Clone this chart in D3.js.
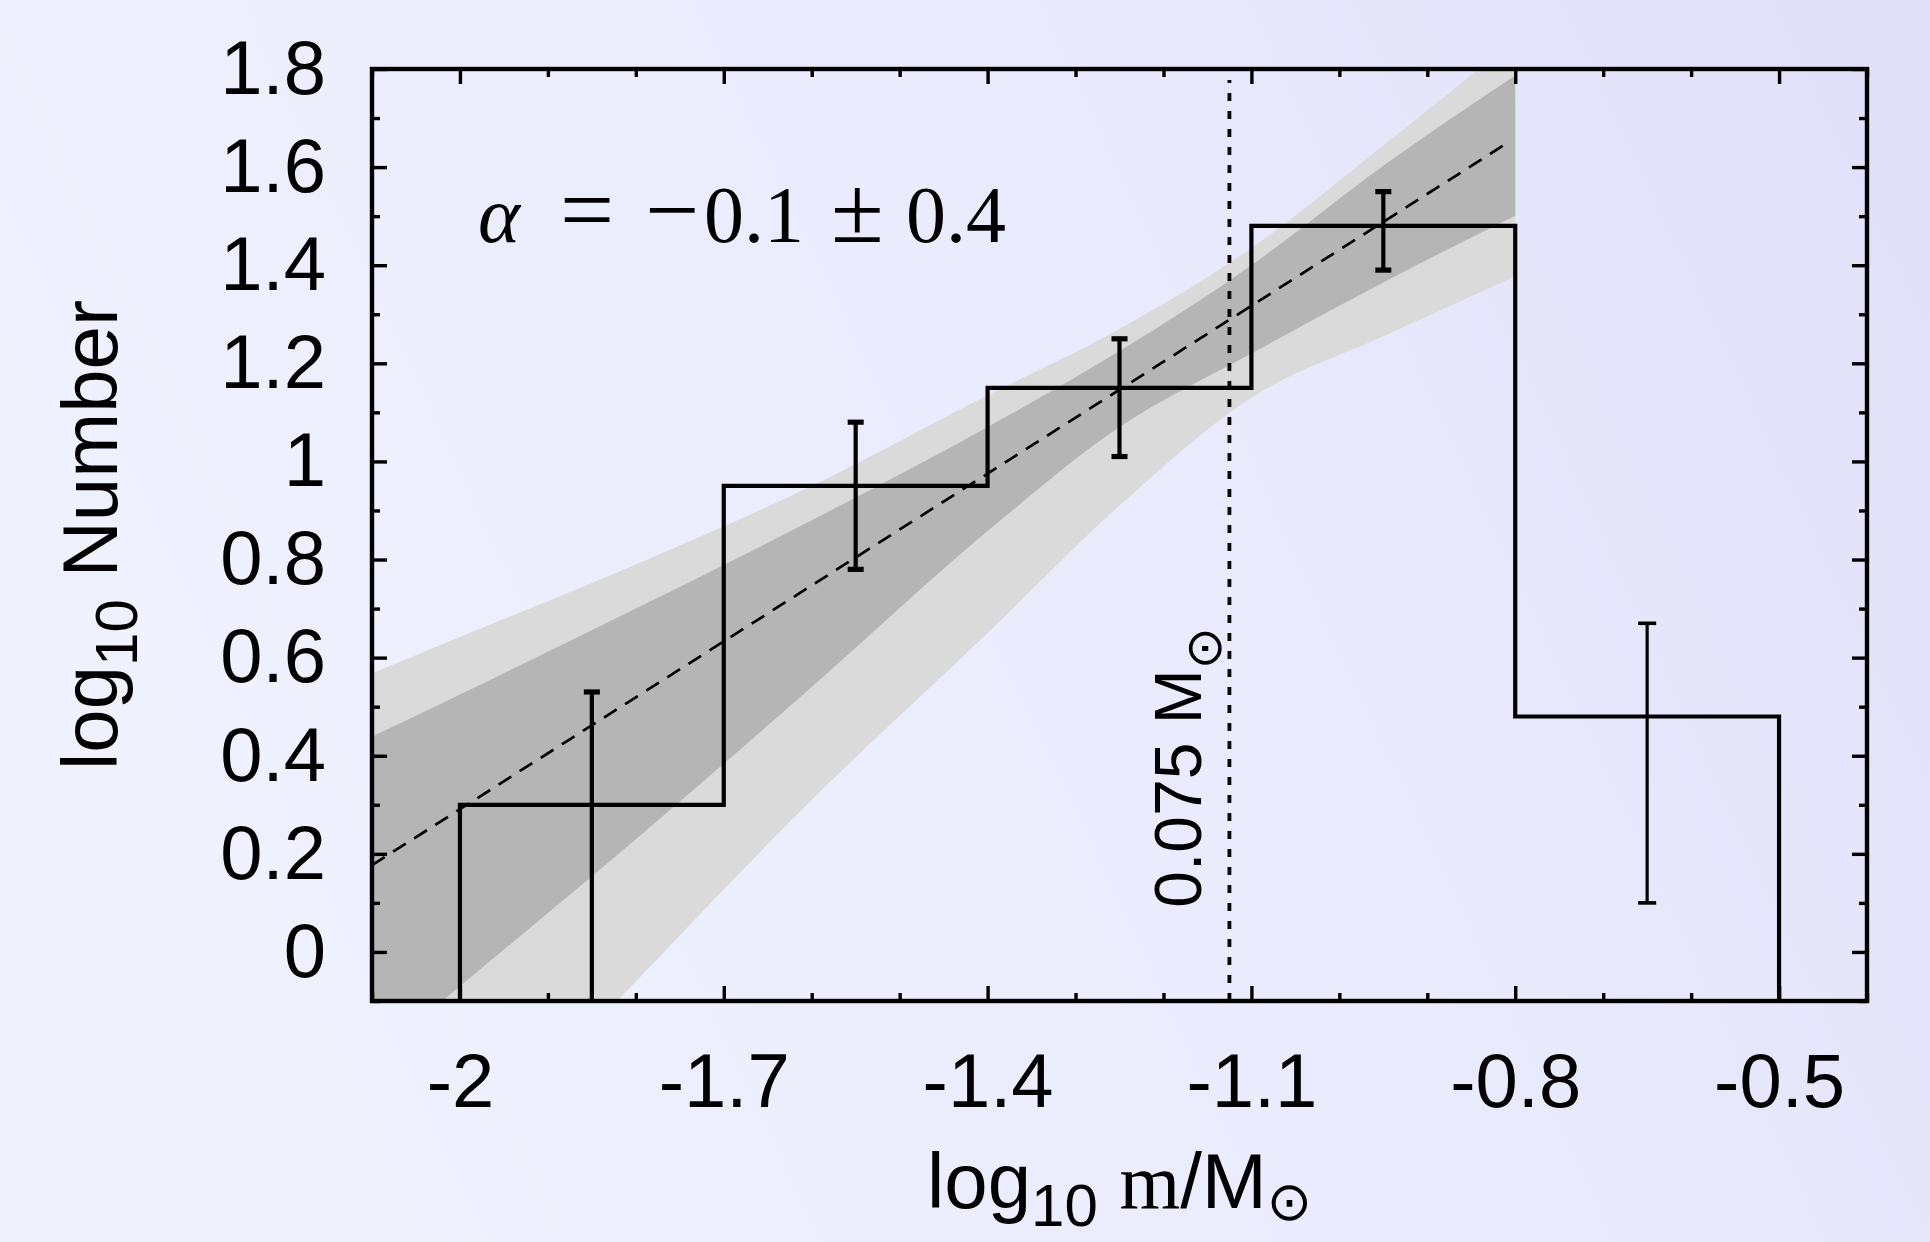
<!DOCTYPE html>
<html>
<head>
<meta charset="utf-8">
<script src="https://cdn.jsdelivr.net/npm/d3@7"></script>
<style>
    html, body { margin: 0; padding: 0; background: #eceefc; }
    svg { display: block; }
    .tick text { font-family: "Liberation Sans", Arial, sans-serif; fill: #000; }
</style>
</head>
<body>
<div id="chart"></div>
<script>
// DATA //
// histogram of log10 mass, bins of 0.3 dex
const binEdges = [-2.0, -1.7, -1.4, -1.1, -0.8, -0.5]
const binHeights = [0.30, 0.95, 1.15, 1.48, 0.48]
const binCenters = [-1.85, -1.55, -1.25, -0.95, -0.65]
const errLow = [-0.23, 0.78, 1.01, 1.39, 0.10]
const errHigh = [0.53, 1.08, 1.25, 1.55, 0.67]

// power-law fit (dashed) and its confidence bands
const fitX = [-2.1, -0.81]
const fitY = [0.177, 1.648]
const bandX = [-2.1, -2.0, -1.8, -1.6, -1.4, -1.25, -1.1, -0.95, -0.8]
const outerUpper = [0.568, 0.642, 0.79, 0.95, 1.135, 1.27, 1.435, 1.644, 1.86]
const innerUpper = [0.439, 0.525, 0.70, 0.88, 1.07, 1.225, 1.40, 1.603, 1.787]
const innerLower = [-0.22, -0.07, 0.23, 0.54, 0.858, 1.07, 1.22, 1.365, 1.501]
const outerLower = [-0.62, -0.44, -0.06, 0.31, 0.65, 0.91, 1.13, 1.255, 1.377]

// hydrogen burning limit, log10(0.075)
const cutoffMass = -1.125
const cutoffLabel = "0.075 M"

const xMajorTicks = [-2, -1.7, -1.4, -1.1, -0.8, -0.5]
const xMinorTicks = [-2.1, -1.9, -1.8, -1.6, -1.5, -1.3, -1.2, -1.0, -0.9, -0.7, -0.6, -0.4]
const yMajorTicks = [0, 0.2, 0.4, 0.6, 0.8, 1, 1.2, 1.4, 1.6, 1.8]
const yMinorTicks = [-0.1, 0.1, 0.3, 0.5, 0.7, 0.9, 1.1, 1.3, 1.5, 1.7]

// GLOBAL VARIABLES //
let dimensions = {
    width: 1930,
    height: 1242,
    margin: {
        top: 69,
        right: 63,
        bottom: 241,
        left: 372,
    },
}
dimensions.boundedWidth = dimensions.width
    - dimensions.margin.left
    - dimensions.margin.right
dimensions.boundedHeight = dimensions.height
    - dimensions.margin.top
    - dimensions.margin.bottom

const xScale = d3.scaleLinear()
    .domain([-2.1, -0.4])
    .range([0, dimensions.boundedWidth])

const yScale = d3.scaleLinear()
    .domain([-0.1, 1.8])
    .range([dimensions.boundedHeight, 0])

const fmt = d => String(d)

function drawChart() {
    const svg = d3.select("#chart")
        .append("svg")
        .attr("width", dimensions.width)
        .attr("height", dimensions.height)

    // background wash
    const defs = svg.append("defs")
    const grad = defs.append("linearGradient")
        .attr("id", "bg")
        .attr("x1", "0%").attr("y1", "30%")
        .attr("x2", "100%").attr("y2", "0%")
    grad.append("stop").attr("offset", "0%").attr("stop-color", "#eff1fd")
    grad.append("stop").attr("offset", "55%").attr("stop-color", "#e9eafc")
    grad.append("stop").attr("offset", "100%").attr("stop-color", "#e0e1f9")

    defs.append("clipPath")
        .attr("id", "plot-clip")
        .append("rect")
        .attr("width", dimensions.boundedWidth)
        .attr("height", dimensions.boundedHeight)

    svg.append("rect")
        .attr("width", dimensions.width)
        .attr("height", dimensions.height)
        .attr("fill", "url(#bg)")

    const bounds = svg.append("g")
        .attr("transform", `translate(${dimensions.margin.left}, ${dimensions.margin.top})`)

    const plot = bounds.append("g")
        .attr("clip-path", "url(#plot-clip)")

    // confidence bands
    const bandArea = d3.area()
        .x(d => xScale(d.x))
        .y0(d => yScale(d.lo))
        .y1(d => yScale(d.hi))
        .curve(d3.curveMonotoneX)

    const outerBand = bandX.map((x, i) => ({x: x, lo: outerLower[i], hi: outerUpper[i]}))
    const innerBand = bandX.map((x, i) => ({x: x, lo: innerLower[i], hi: innerUpper[i]}))

    plot.append("path")
        .datum(outerBand)
        .attr("d", bandArea)
        .attr("fill", "#dadada")

    plot.append("path")
        .datum(innerBand)
        .attr("d", bandArea)
        .attr("fill", "#b5b5b5")

    // fit line
    plot.append("line")
        .attr("x1", xScale(fitX[0]))
        .attr("y1", yScale(fitY[0]))
        .attr("x2", xScale(fitX[1]))
        .attr("y2", yScale(fitY[1]))
        .attr("stroke", "#000")
        .attr("stroke-width", 2.7)
        .attr("stroke-dasharray", "15,10")

    // histogram outline
    const steps = [[binEdges[0], yScale.domain()[0]]]
    binHeights.forEach((h, i) => {
        steps.push([binEdges[i], h])
        steps.push([binEdges[i + 1], h])
    })
    steps.push([binEdges[binEdges.length - 1], yScale.domain()[0]])

    plot.append("path")
        .datum(steps)
        .attr("d", d3.line().x(d => xScale(d[0])).y(d => yScale(d[1])))
        .attr("fill", "none")
        .attr("stroke", "#000")
        .attr("stroke-width", 4.2)
        .attr("stroke-linejoin", "miter")

    // error bars
    const errGroup = plot.append("g")
    binCenters.forEach((c, i) => {
        const last = i === binCenters.length - 1
        const sw = last ? 3.2 : 4.2
        const capW = last ? 9 : 8
        const cx = xScale(c)
        errGroup.append("line")
            .attr("x1", cx).attr("x2", cx)
            .attr("y1", yScale(errLow[i])).attr("y2", yScale(errHigh[i]))
            .attr("stroke", "#000").attr("stroke-width", sw)
        ;[errLow[i], errHigh[i]].forEach(v => {
            errGroup.append("line")
                .attr("x1", cx - capW).attr("x2", cx + capW)
                .attr("y1", yScale(v)).attr("y2", yScale(v))
                .attr("stroke", "#000").attr("stroke-width", last ? 3.6 : 5.2)
        })
    })

    // cutoff line
    plot.append("line")
        .attr("x1", xScale(cutoffMass)).attr("x2", xScale(cutoffMass))
        .attr("y1", yScale(yScale.domain()[0]))
        .attr("y2", yScale(yScale.domain()[1]) + 11)
        .attr("stroke", "#000")
        .attr("stroke-width", 3.8)
        .attr("stroke-dasharray", "8,10")

    const cut = bounds.append("text")
        .attr("transform", `translate(${xScale(cutoffMass) - 28}, ${yScale(0.09)}) rotate(-90)`)
        .attr("font-family", "Liberation Sans, Arial, sans-serif")
        .attr("font-size", 66)
        .attr("fill", "#000")
    cut.append("tspan").text(cutoffLabel)
    cut.append("tspan")
        .attr("font-family", "DejaVu Sans")
        .attr("font-size", 50)
        .attr("dy", 20)
        .attr("dx", 0)
        .text("\u2299")

    // axes: inner ticks on all four sides
    const axisStyle = g => {
        g.select(".domain").remove()
        g.selectAll(".tick line").attr("stroke", "#000").attr("stroke-width", 3.4)
        g.selectAll(".tick text").attr("font-size", 76)
    }

    bounds.append("g")
        .attr("transform", `translate(0, ${dimensions.boundedHeight})`)
        .call(d3.axisBottom(xScale).tickValues(xMajorTicks).tickSizeInner(-15).tickSizeOuter(0)
            .tickPadding(52).tickFormat(fmt))
        .call(axisStyle)
    bounds.append("g")
        .attr("transform", `translate(0, ${dimensions.boundedHeight})`)
        .call(d3.axisBottom(xScale).tickValues(xMinorTicks).tickSizeInner(-8).tickSizeOuter(0).tickFormat(""))
        .call(axisStyle)
    bounds.append("g")
        .call(d3.axisTop(xScale).tickValues(xMajorTicks).tickSizeInner(-15).tickSizeOuter(0).tickFormat(""))
        .call(axisStyle)
    bounds.append("g")
        .call(d3.axisTop(xScale).tickValues(xMinorTicks).tickSizeInner(-8).tickSizeOuter(0).tickFormat(""))
        .call(axisStyle)

    bounds.append("g")
        .call(d3.axisLeft(yScale).tickValues(yMajorTicks).tickSizeInner(-15).tickSizeOuter(0)
            .tickPadding(46).tickFormat(fmt))
        .call(axisStyle)
    bounds.append("g")
        .call(d3.axisLeft(yScale).tickValues(yMinorTicks).tickSizeInner(-8).tickSizeOuter(0).tickFormat(""))
        .call(axisStyle)
    bounds.append("g")
        .attr("transform", `translate(${dimensions.boundedWidth}, 0)`)
        .call(d3.axisRight(yScale).tickValues(yMajorTicks).tickSizeInner(-15).tickSizeOuter(0).tickFormat(""))
        .call(axisStyle)
    bounds.append("g")
        .attr("transform", `translate(${dimensions.boundedWidth}, 0)`)
        .call(d3.axisRight(yScale).tickValues(yMinorTicks).tickSizeInner(-8).tickSizeOuter(0).tickFormat(""))
        .call(axisStyle)

    // frame
    bounds.append("rect")
        .attr("width", dimensions.boundedWidth)
        .attr("height", dimensions.boundedHeight)
        .attr("fill", "none")
        .attr("stroke", "#000")
        .attr("stroke-width", 4.4)

    // fit annotation, glyphs placed like the TeX layout
    const alpha = svg.append("text")
        .attr("y", 242)
        .attr("font-family", "Liberation Serif, serif")
        .attr("font-size", 80)
        .attr("fill", "#000")
    alpha.append("tspan").attr("x", 478).attr("font-style", "italic").text("\u03b1")
    alpha.append("tspan").attr("x", 560).attr("font-size", 96).text("=")
    alpha.append("tspan").attr("x", 645).attr("font-size", 96).text("\u2212")
    alpha.append("tspan").attr("x", 704).text("0.1")
    alpha.append("tspan").attr("x", 831).attr("font-size", 96).text("\u00b1")
    alpha.append("tspan").attr("x", 906).text("0.4")

    // axis labels
    const xLabel = svg.append("text")
        .attr("x", dimensions.margin.left + dimensions.boundedWidth / 2)
        .attr("y", 1208)
        .attr("text-anchor", "middle")
        .attr("font-family", "Liberation Sans, Arial, sans-serif")
        .attr("font-size", 78)
        .attr("fill", "#000")
    xLabel.append("tspan").text("log")
    xLabel.append("tspan").attr("font-size", 60).attr("dy", 18).text("10")
    xLabel.append("tspan").attr("dy", -18).text(" ")
    xLabel.append("tspan").attr("font-family", "Liberation Serif, serif").text("m")
    xLabel.append("tspan").text("/M")
    xLabel.append("tspan").attr("font-family", "DejaVu Sans").attr("font-size", 54).attr("dy", 12).text("\u2299")

    const yLabel = svg.append("text")
        .attr("transform", `translate(117, ${dimensions.margin.top + dimensions.boundedHeight / 2}) rotate(-90)`)
        .attr("text-anchor", "middle")
        .attr("font-family", "Liberation Sans, Arial, sans-serif")
        .attr("font-size", 78)
        .attr("fill", "#000")
    yLabel.append("tspan").text("log")
    yLabel.append("tspan").attr("font-size", 60).attr("dy", 20).text("10")
    yLabel.append("tspan").attr("dy", -20).text(" Number")
}

drawChart()
</script>
</body>
</html>
